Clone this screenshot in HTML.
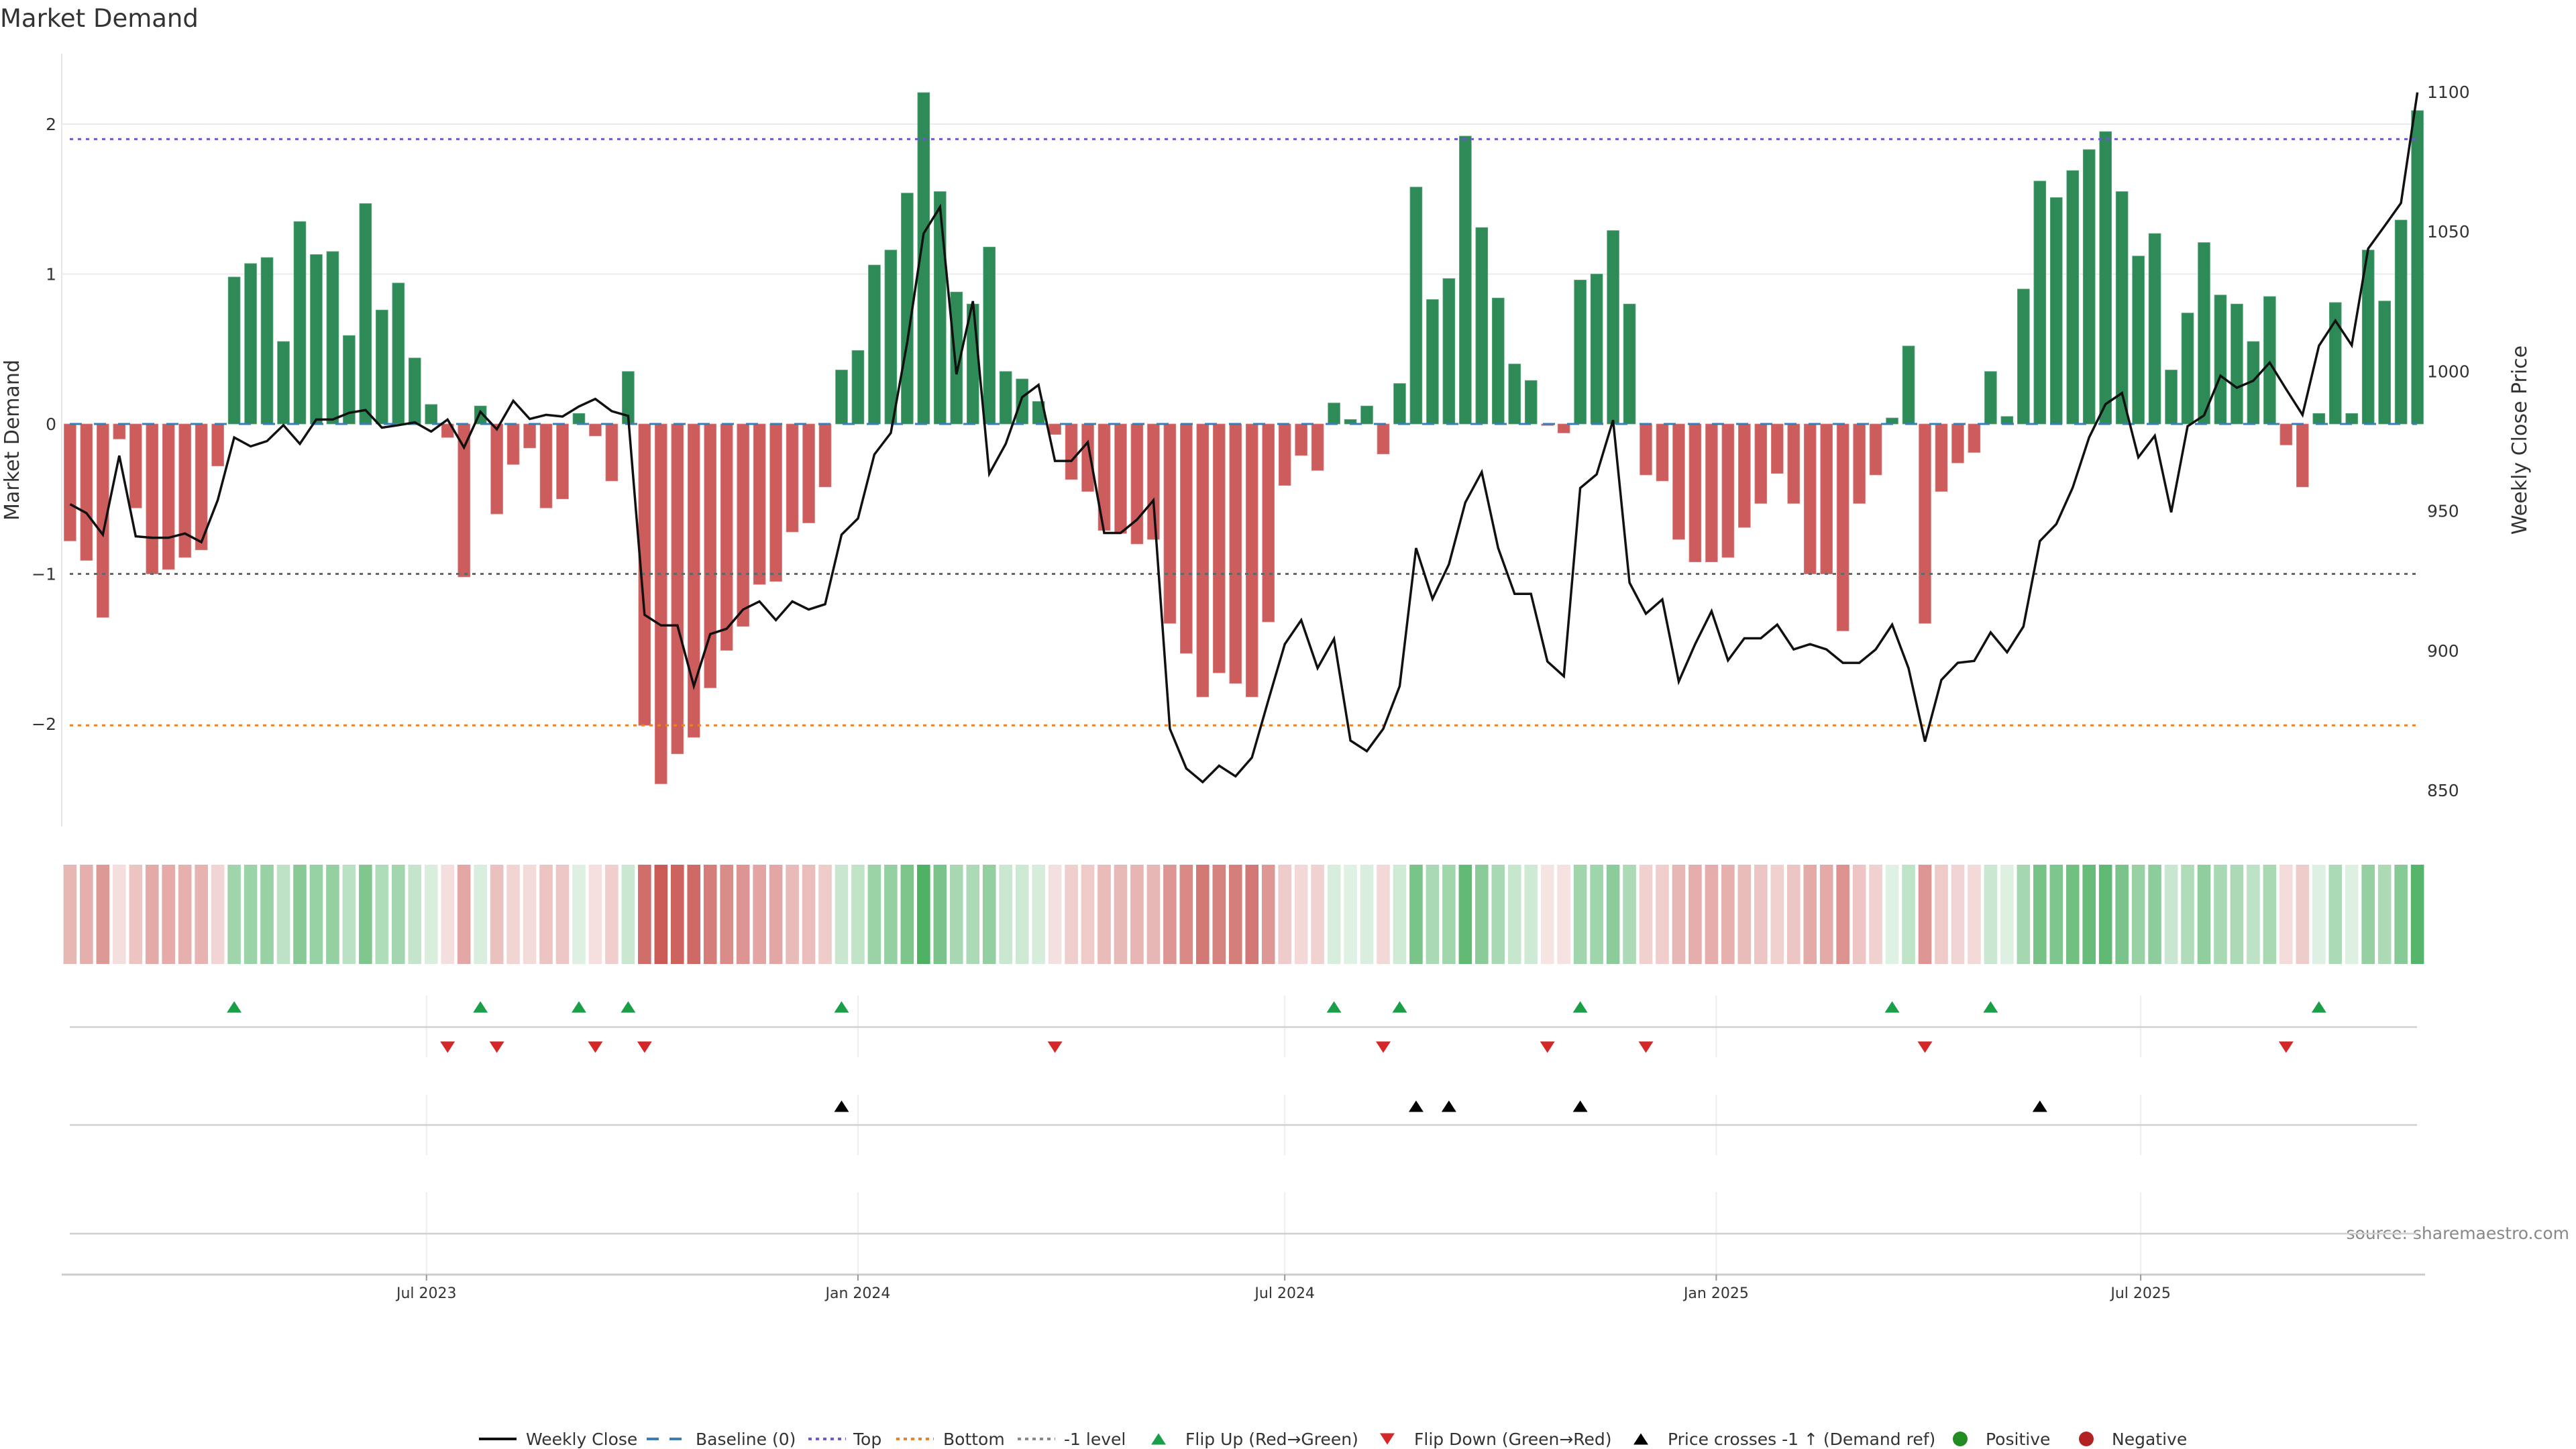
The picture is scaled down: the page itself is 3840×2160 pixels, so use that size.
<!DOCTYPE html>
<html><head><meta charset="utf-8"><title>Market Demand</title>
<style>
html,body{margin:0;padding:0;background:#fff;}
svg{display:block;font-family:"DejaVu Sans","Liberation Sans",sans-serif;}
</style></head>
<body>
<svg id="chart" width="3840" height="2160" viewBox="0 0 3840 2160" xmlns="http://www.w3.org/2000/svg">
<text x="0" y="40" font-size="37" fill="#333">Market Demand</text>
<text transform="translate(28,656) rotate(-90)" text-anchor="middle" font-size="30" fill="#333">Market Demand</text>
<text transform="translate(3766,656) rotate(-90)" text-anchor="middle" font-size="30" fill="#333">Weekly Close Price</text>
<text x="3830" y="1847" text-anchor="end" font-size="25" fill="#888">source: sharemaestro.com</text>
<g id="main"></g>
<g id="legend"></g>
</svg>
<script>
const demand = [-0.78,-0.91,-1.29,-0.10,-0.56,-1.00,-0.97,-0.89,-0.84,-0.28,0.98,1.07,1.11,0.55,1.35,1.13,1.15,0.59,1.47,0.76,0.94,0.44,0.13,-0.09,-1.02,0.12,-0.60,-0.27,-0.16,-0.56,-0.50,0.07,-0.08,-0.38,0.35,-2.01,-2.40,-2.20,-2.09,-1.76,-1.51,-1.35,-1.07,-1.05,-0.72,-0.66,-0.42,0.36,0.49,1.06,1.16,1.54,2.21,1.55,0.88,0.80,1.18,0.35,0.30,0.15,-0.07,-0.37,-0.45,-0.71,-0.73,-0.80,-0.77,-1.33,-1.53,-1.82,-1.66,-1.73,-1.82,-1.32,-0.41,-0.21,-0.31,0.14,0.03,0.12,-0.20,0.27,1.58,0.83,0.97,1.92,1.31,0.84,0.40,0.29,-0.01,-0.06,0.96,1.00,1.29,0.80,-0.34,-0.38,-0.77,-0.92,-0.92,-0.89,-0.69,-0.53,-0.33,-0.53,-1.00,-1.00,-1.38,-0.53,-0.34,0.04,0.52,-1.33,-0.45,-0.26,-0.19,0.35,0.05,0.90,1.62,1.51,1.69,1.83,1.95,1.55,1.12,1.27,0.36,0.74,1.21,0.86,0.80,0.55,0.85,-0.14,-0.42,0.07,0.81,0.07,1.16,0.82,1.36,2.09];
const price = [952.4,949.2,941.5,969.8,940.9,940.4,940.4,941.9,938.8,953.9,976.3,973.1,975.0,980.7,974.0,982.7,982.7,985.1,986.1,979.8,980.7,981.7,978.4,982.7,972.7,985.5,979.2,989.4,982.9,984.4,983.8,987.4,990.1,985.7,984.0,912.8,909.0,909.0,887.3,905.9,907.8,914.7,917.6,910.9,917.6,914.7,916.6,941.5,947.3,970.2,977.9,1010.4,1049.3,1058.8,998.9,1025.1,963.3,974.0,990.7,995.1,967.9,967.9,974.6,942.1,942.1,946.9,953.8,872.0,857.8,852.9,858.8,855.0,861.7,882.2,902.3,910.9,893.7,904.2,867.8,864.0,872.0,887.3,936.7,918.5,930.9,953.0,963.9,936.7,920.3,920.3,896.1,890.8,958.2,963.1,982.5,924.3,913.2,918.3,888.9,902.3,914.1,896.5,904.4,904.4,909.3,900.4,902.3,900.4,895.6,895.6,900.4,909.3,893.7,867.4,889.5,895.6,896.3,906.5,899.4,908.6,939.2,945.3,958.3,976.3,988.2,992.2,969.2,976.9,949.5,980.3,984.2,998.4,994.1,996.6,1003.1,993.6,984.4,1009.1,1018.1,1009.3,1043.9,1052.0,1060.2,1099.8];
const flipUp = [10,25,31,34,47,77,81,92,111,117,137];
const flipDown = [23,26,32,35,60,80,90,96,113,135];
const crosses = [47,82,84,92,120];
const yTicks = [-2,-1,0,1,2];
const yTickLabels = ["\u22122","\u22121","0","1","2"];
const priceTicks = [850,900,950,1000,1050,1100];
const dateTicks = ["2023-07-01","2024-01-01","2024-07-01","2025-01-01","2025-07-01"];
const dateTickLabels = ["Jul 2023","Jan 2024","Jul 2024","Jan 2025","Jul 2025"];
const levelTop = 1.90, levelBottom = -2.01, levelMinus1 = -1;
const startDate = "2023-01-30";

const NS = "http://www.w3.org/2000/svg";
const g = document.getElementById('main');
const lg = document.getElementById('legend');
function mk(tag, attrs, parent){const e=document.createElementNS(NS,tag);for(const k in attrs)e.setAttribute(k,attrs[k]);(parent||g).appendChild(e);return e;}
const X0=104.4, STEP=24.47, PXDAY=STEP/7;
const xi = i => X0 + i*STEP;
const xd = s => X0 + (Date.parse(s)-Date.parse(startDate))/86400000*PXDAY;
const Y0=632, UNIT=223.5;
const yv = v => Y0 - v*UNIT;
const yp = p => 137 + (1100-p)*(1041/250);
const XL=92, XR=3615, PL=104, PR=3603;

const sp=mk('line',{x1:XL,y1:80,x2:XL,y2:1232,stroke:'#e6e6e6','stroke-width':2});


yTicks.forEach((t,k)=>{
  if(t>0){const l=mk('line',{x1:XL,y1:yv(t),x2:XR,y2:yv(t),stroke:'#ebebeb','stroke-width':2});}
  const tx=mk('text',{x:84,y:yv(t)+9,'text-anchor':'end','font-size':25,fill:'#333'});tx.textContent=yTickLabels[k];
  
  
});
priceTicks.forEach(p=>{
  const tx=mk('text',{x:3618,y:yp(p)+9,'font-size':25,fill:'#333'});tx.textContent=String(p);
  
  
});

demand.forEach((v,i)=>{
  const y=Math.min(yv(v),Y0), h=Math.abs(yv(v)-Y0);
  const r=mk('rect',{x:xi(i)-8.9,y:y,width:17.8,height:Math.max(h,0.5),fill:v>=0?'#2e8b57':'#cd5c5c',stroke:v>=0?'#5aa57a':'#d98080','stroke-width':0.8});
  
  
});
function hline(y,color,dash,name,w){const l=mk('line',{x1:PL,y1:y,x2:PR,y2:y,stroke:color,'stroke-width':w||3,'stroke-dasharray':dash});}
hline(yv(0),'#3b7db5','18 18','baseline-line',3);
hline(yv(levelTop),'#6a5acd','5 7','top-level-line',3);
hline(yv(levelBottom),'#e8832a','5 7','bottom-level-line',3);
hline(yv(levelMinus1),'#666','5 7','minus-one-level-line',3);
const pl=mk('polyline',{points:price.map((p,i)=>xi(i).toFixed(1)+','+yp(p).toFixed(1)).join(' '),fill:'none',stroke:'#111','stroke-width':3.5,'stroke-linejoin':'miter'});



function heat(v){const w=0.16+0.84*Math.min(Math.abs(v)/2.35,1);const c=v>=0?[69,173,92]:[201,90,85];return 'rgb('+c.map(q=>Math.round(255-(255-q)*w)).join(',')+')';}
demand.forEach((v,i)=>{
  const r=mk('rect',{x:xi(i)-9.8,y:1289,width:19.6,height:148,fill:heat(v)});
  
  
});

[[1484,1576],[1632,1722],[1777,1900]].forEach(([a,b])=>{
  dateTicks.forEach(d=>{const l=mk('line',{x1:xd(d),y1:a,x2:xd(d),y2:b,stroke:'#eeeeee','stroke-width':2});});
});
[1531,1677,1839].forEach(y=>{const l=mk('line',{x1:PL,y1:y,x2:PR,y2:y,stroke:'#d0d0d0','stroke-width':2.5});});
const ax=mk('line',{x1:XL,y1:1900,x2:XR,y2:1900,stroke:'#cccccc','stroke-width':3});


dateTicks.forEach((d,k)=>{
  mk('line',{x1:xd(d),y1:1900,x2:xd(d),y2:1909,stroke:'#999','stroke-width':2});
  const t=mk('text',{x:xd(d),y:1935,'text-anchor':'middle','font-size':22,fill:'#333'});t.textContent=dateTickLabels[k];
  
  
});
function tri(cx,cy,up,color,name){const h=17,w=11;const pts=up?[[cx-w,cy+h/2],[cx+w,cy+h/2],[cx,cy-h/2]]:[[cx-w,cy-h/2],[cx+w,cy-h/2],[cx,cy+h/2]];const p=mk('polygon',{points:pts.map(q=>q.join(',')).join(' '),fill:color});return p;}
flipUp.forEach(i=>tri(xi(i),1501,true,'#1a9e48','flip-up-marker'));
flipDown.forEach(i=>tri(xi(i),1561,false,'#d62728','flip-down-marker'));
crosses.forEach(i=>tri(xi(i),1649,true,'#000','price-cross-marker'));

const LY=2145;
function ltext(x,s,name){const t=mk('text',{x:x,y:LY+9,'font-size':25,fill:'#333'},lg);t.textContent=s;}
function lline(x,color,dash,w){mk('line',{x1:x,y1:LY,x2:x+56,y2:LY,stroke:color,'stroke-width':w,'stroke-dasharray':dash},lg);}
lline(714,'#111','',4); ltext(784,'Weekly Close','legend-weekly-close');
lline(964,'#3b7db5','18 16',4); ltext(1037,'Baseline (0)','legend-baseline');
lline(1205,'#6a5acd','5 6',4); ltext(1272,'Top','legend-top');
lline(1336,'#e8832a','5 6',4); ltext(1406,'Bottom','legend-bottom');
lline(1517,'#888','5 6',4); ltext(1586,'-1 level','legend-minus-one');
const t1=tri(1727,LY,true,'#1a9e48','legend-flip-up-icon'); lg.appendChild(t1); ltext(1767,'Flip Up (Red\u2192Green)','legend-flip-up');
const t2=tri(2068,LY,false,'#d62728','legend-flip-down-icon'); lg.appendChild(t2); ltext(2108,'Flip Down (Green\u2192Red)','legend-flip-down');
const t3=tri(2446,LY,true,'#000','legend-cross-icon'); lg.appendChild(t3); ltext(2486,'Price crosses -1 \u2191 (Demand ref)','legend-price-cross');
const c1=mk('circle',{cx:2922,cy:LY,r:11,fill:'#228b22'},lg);


ltext(2960,'Positive','legend-positive');
const c2=mk('circle',{cx:3110,cy:LY,r:11,fill:'#b22222'},lg);


ltext(3148,'Negative','legend-negative');
</script>
</body></html>
